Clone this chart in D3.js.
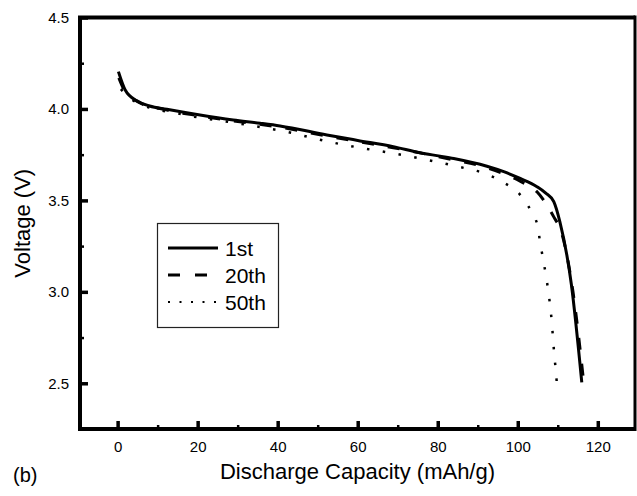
<!DOCTYPE html>
<html>
<head>
<meta charset="utf-8">
<script src="https://cdn.jsdelivr.net/npm/d3@7"></script>
<style>
  body { margin: 0; background: #fff; }
  text { font-family: "Liberation Sans", Arial, sans-serif; fill: #000; }
</style>
</head>
<body>
<script>
// 1st cycle (solid)
var cap1 = [0.2, 1.9, 4.8, 8, 12.3, 20.6, 28.9, 35.6, 40.6, 52.3, 60, 68.9, 75.6, 80.6, 84, 92.3, 96.5, 100.6, 104.8, 107, 109, 110.5, 113.4, 116];
var volt1 = [4.204, 4.104, 4.045, 4.016, 3.998, 3.967, 3.94, 3.922, 3.907, 3.858, 3.828, 3.794, 3.76, 3.742, 3.729, 3.687, 3.657, 3.62, 3.575, 3.54, 3.493, 3.385, 3.04, 2.505];
// 20th cycle (dashed)
var cap20 = [0.3, 2, 5, 12, 20.6, 28.9, 40.6, 52.3, 60, 68.9, 80.6, 92.3, 100.6, 104.8, 109, 111, 113.8, 116.5];
var volt20 = [4.17, 4.09, 4.04, 3.995, 3.962, 3.935, 3.9, 3.852, 3.822, 3.788, 3.737, 3.678, 3.605, 3.547, 3.41, 3.32, 3.0, 2.5];
// 50th cycle (dotted)
var cap50 = [0.8, 4.4, 16.9, 29, 36.9, 40.6, 52.7, 60, 68.9, 76.5, 84.4, 92.7, 96.5, 100.5, 103.3, 105, 105.6, 106.3, 107, 107.6, 108.1, 108.5, 108.8, 109.1, 109.5, 109.8];
var volt50 = [4.108, 4.04, 3.967, 3.925, 3.896, 3.882, 3.821, 3.79, 3.757, 3.725, 3.688, 3.639, 3.597, 3.533, 3.442, 3.356, 3.268, 3.183, 3.095, 3.009, 2.922, 2.836, 2.75, 2.663, 2.571, 2.49];

var xTicks = [0, 20, 40, 60, 80, 100, 120];
var xMinor = [10, 30, 50, 70, 90, 110];
var yTicks = [2.5, 3.0, 3.5, 4.0, 4.5];
var yMinor = [2.75, 3.25, 3.75, 4.25];
var seriesNames = ['1st', '20th', '50th'];

var width = 637, height = 496;
var pLeft = 80, pRight = 635, pTop = 17.5, pBottom = 429;

var svg = d3.select("body").append("svg")
  .attr("width", width)
  .attr("height", height);

svg.append("rect").attr("width", width).attr("height", height).attr("fill", "#fff");

var x = d3.scaleLinear().domain([-9.4, 129.3]).range([pLeft, pRight]);
var y = d3.scaleLinear().domain([2.25, 4.5]).range([pBottom, pTop]);

// minor ticks
svg.append("g")
  .attr("transform", "translate(0," + pBottom + ")")
  .call(d3.axisBottom(x).tickValues(xMinor).tickSize(-4).tickFormat(""))
  .call(g => g.select(".domain").remove())
  .call(g => g.selectAll("line").attr("stroke-width", 2.5));
svg.append("g")
  .attr("transform", "translate(" + pLeft + ",0)")
  .call(d3.axisLeft(y).tickValues(yMinor).tickSize(-4).tickFormat(""))
  .call(g => g.select(".domain").remove())
  .call(g => g.selectAll("line").attr("stroke-width", 2.5));

// major ticks
var xAxis = svg.append("g")
  .attr("transform", "translate(0," + pBottom + ")")
  .call(d3.axisBottom(x).tickValues(xTicks).tickSize(-8).tickPadding(12).tickFormat(d3.format("d")))
  .attr("font-size", 15)
  .attr("font-family", null);
xAxis.select(".domain").remove();
xAxis.selectAll("line").attr("stroke-width", 3.5);
xAxis.selectAll("text").attr("fill", "#000");

var yAxis = svg.append("g")
  .attr("transform", "translate(" + pLeft + ",0)")
  .call(d3.axisLeft(y).tickValues(yTicks).tickSize(-8).tickPadding(11).tickFormat(d3.format(".1f")))
  .attr("font-size", 15)
  .attr("font-family", null);
yAxis.select(".domain").remove();
yAxis.selectAll("line").attr("stroke-width", 3.5);
yAxis.selectAll("text").attr("fill", "#000");

// frame
svg.append("path")
  .attr("d", "M" + pRight + "," + pTop + "H" + pLeft + "V" + pBottom + "H" + pRight)
  .attr("fill", "none").attr("stroke", "#000").attr("stroke-width", 4);
svg.append("line")
  .attr("x1", pRight).attr("x2", pRight).attr("y1", pTop - 2).attr("y2", pBottom + 2)
  .attr("stroke", "#000").attr("stroke-width", 3);

// curves
var line = d3.line()
  .x(d => x(d[0]))
  .y(d => y(d[1]))
  .curve(d3.curveMonotoneX);

var styles = [
  { dash: null, w: 3 },
  { dash: "12,14", w: 3 },
  { dash: "2.5,13.5", w: 2.5 }
];
var series = [
  d3.zip(cap1, volt1),
  d3.zip(cap20, volt20),
  d3.zip(cap50, volt50)
];

svg.selectAll("path.curve")
  .data(series)
  .enter()
  .append("path")
  .attr("class", "curve")
  .attr("d", line)
  .attr("fill", "none")
  .attr("stroke", "#000")
  .attr("stroke-width", (d, i) => styles[i].w)
  .attr("stroke-dasharray", (d, i) => styles[i].dash);

// legend
var lg = svg.append("g");
lg.append("rect")
  .attr("x", 157.5).attr("y", 223.5).attr("width", 121).attr("height", 104)
  .attr("fill", "#fff").attr("stroke", "#222").attr("stroke-width", 1.2);
seriesNames.forEach(function (name, i) {
  var ly = 248 + i * 27;
  lg.append("line")
    .attr("x1", 168).attr("x2", 218).attr("y1", ly).attr("y2", ly)
    .attr("stroke", "#000")
    .attr("stroke-width", i == 2 ? 2 : 3)
    .attr("stroke-dasharray", i == 0 ? null : (i == 1 ? "12,15" : "2,9.5"));
  lg.append("text")
    .attr("x", 225).attr("y", ly + 7.5)
    .style("font-size", "21px")
    .text(name);
});

// titles
svg.append("text")
  .attr("x", (pLeft + pRight) / 2).attr("y", 479)
  .attr("text-anchor", "middle")
  .style("font-size", "22px")
  .text("Discharge Capacity (mAh/g)");

svg.append("text")
  .attr("transform", "translate(30," + ((pTop + pBottom) / 2) + ") rotate(-90)")
  .attr("text-anchor", "middle")
  .style("font-size", "22px")
  .text("Voltage (V)");

svg.append("text")
  .attr("x", 13).attr("y", 482)
  .style("font-size", "20px")
  .text("(b)");
</script>
</body>
</html>
